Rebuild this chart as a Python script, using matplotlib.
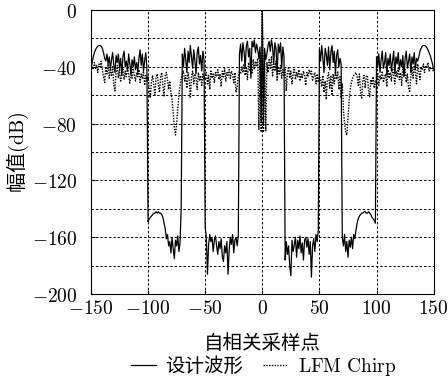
import numpy as np
import matplotlib
matplotlib.use('Agg')
import matplotlib.pyplot as plt
from matplotlib.ticker import MultipleLocator

plt.rcParams['font.family'] = ['Noto Sans CJK SC', 'DejaVu Sans']
plt.rcParams['mathtext.fontset'] = 'cm'

# autocorrelation lags
lags = np.arange(-150, 151)

# designed waveform, dB (lag -150 ... 150)
designed = [
    -43, -37, -33, -30, -28, -26.5, -25.5, -25, -25, -25.5,          # -150
    -27, -30, -34, -36, -31, -38, -33, -42, -35, -30,                # -140
    -39, -44, -32, -37, -31, -41, -34, -46, -33, -29,                # -130
    -40, -36, -43, -31, -38, -45, -35, -40, -33, -42,                # -120
    -37, -44, -34, -28, -39, -31, -43, -36, -30, -41,                # -110
    -149, -147, -146, -145, -144, -143, -143, -142, -143, -142,      # -100
    -143, -143, -144, -146, -150, -154, -161, -158, -166, -163,      # -90
    -171, -160, -168, -175, -162, -166, -159, -170, -164, -139,      # -80
    -31, -40, -27, -35, -44, -29, -37, -25, -33, -41,                # -70
    -28, -36, -45, -30, -26, -38, -32, -43, -29, -35,                # -60
    -153, -160, -186, -165, -158, -163, -160, -170, -162, -159,      # -50
    -166, -172, -163, -168, -161, -174, -177, -166, -171, -163,      # -40
    -186, -169, -160, -165, -158, -171, -162, -160, -166, -159,      # -30
    -31, -24, -36, -23, -29, -41, -25, -22, -33, -27,                # -20
    -48, -22, -26, -21, -30, -24, -28, -34, -26, -79,                # -10
    0, -80, -27, -35, -31, -25, -22, -29, -21, -26,                  # 0
    -38, -23, -27, -45, -24, -30, -23, -41, -26, -33,                # 10
    -176, -163, -172, -166, -180, -187, -162, -170, -165, -160,      # 20
    -174, -162, -168, -159, -171, -164, -176, -162, -160, -167,      # 30
    -161, -172, -163, -188, -166, -161, -170, -158, -163, -155,      # 40
    -28, -36, -25, -33, -44, -27, -31, -39, -26, -42,                # 50
    -30, -25, -37, -29, -45, -32, -28, -40, -34, -38,                # 60
    -160, -166, -158, -170, -163, -174, -162, -167, -160, -168,      # 70
    -158, -161, -155, -150, -147, -145, -144, -143, -143, -142,      # 80
    -142, -143, -143, -142, -143, -144, -146, -147, -148, -150,      # 90
    -33, -40, -31, -44, -35, -29, -41, -37, -30, -46,                # 100
    -34, -39, -31, -43, -36, -29, -45, -33, -38, -30,                # 110
    -42, -35, -40, -32, -47, -34, -29, -41, -36, -31,                # 120
    -44, -33, -38, -30, -42, -34, -36, -33, -29, -27,                # 130
    -25.5, -25, -25, -25.5, -26.5, -28, -30, -32, -35, -38,          # 140
    -42,                                                             # 150
]

# LFM chirp, dB (lag -150 ... 150)
lfm = [
    -43, -40, -42, -37, -41, -39, -44, -38, -40, -36,      # -150
    -42, -47, -51, -40, -45, -38, -48, -42, -46, -40,      # -140
    -53, -57, -44, -39, -48, -42, -50, -46, -41, -49,      # -130
    -43, -47, -40, -45, -52, -43, -48, -41, -46, -50,      # -120
    -44, -47, -42, -51, -45, -48, -43, -53, -46, -50,      # -110
    -47, -55, -62, -50, -46, -53, -60, -48, -45, -52,      # -100
    -58, -47, -44, -54, -61, -46, -44, -49, -56, -50,      # -90
    -58, -63, -72, -83, -88, -80, -69, -60, -53, -48,      # -80
    -45, -43, -50, -46, -55, -44, -49, -62, -47, -43,      # -70
    -52, -45, -48, -56, -44, -50, -46, -53, -45, -49,      # -60
    -47, -44, -52, -46, -56, -43, -48, -45, -51, -44,      # -50
    -47, -42, -49, -45, -54, -43, -47, -41, -50, -44,      # -40
    -46, -42, -48, -43, -45, -52, -44, -58, -54, -47,      # -30
    -43, -45, -40, -44, -38, -46, -41, -49, -37, -43,      # -20
    -39, -45, -35, -42, -36, -40, -34, -84, -30, -86,      # -10
    0, -86, -31, -85, -37, -44, -35, -41, -33, -47,        # 0
    -38, -43, -36, -50, -40, -45, -39, -48, -42, -46,      # 10
    -41, -57, -44, -40, -48, -43, -52, -45, -41, -49,      # 20
    -44, -47, -42, -50, -45, -48, -43, -46, -53, -44,      # 30
    -47, -42, -45, -43, -50, -46, -44, -52, -45, -51,      # 40
    -47, -49, -54, -46, -58, -50, -63, -48, -44, -55,      # 50
    -46, -60, -45, -52, -44, -49, -43, -56, -47, -62,      # 60
    -52, -70, -80, -86, -88, -76, -64, -56, -51, -48,      # 70
    -46, -45, -44, -47, -53, -45, -58, -62, -50, -46,      # 80
    -55, -47, -46, -57, -61, -49, -52, -47, -55, -50,      # 90
    -51, -44, -53, -46, -49, -43, -51, -47, -45, -54,      # 100
    -42, -48, -44, -50, -41, -46, -52, -43, -47, -41,      # 110
    -49, -44, -53, -40, -46, -42, -51, -45, -55, -58,      # 120
    -47, -41, -48, -39, -44, -52, -38, -43, -49, -40,      # 130
    -42, -38, -44, -39, -41, -37, -43, -40, -42, -41,      # 140
    -44,                                                   # 150
]

xticks = [-150, -100, -50, 0, 50, 100, 150]
yticks = [-200, -160, -120, -80, -40, 0]

fig = plt.figure(figsize=(4.48, 3.85), dpi=100)
ax = fig.add_axes([0.203, 0.236, 0.765, 0.738])

l1, = ax.plot(lags, designed, color='k', lw=0.9, zorder=3, label='设计波形')
l2, = ax.plot(lags, lfm, color='k', lw=1.0, ls=(0, (1, 1)), zorder=2,
              label=r'$\mathrm{LFM\ Chirp}$')

ax.set_xlim(-150, 150)
ax.set_ylim(-200, 0)
ax.set_xticks(xticks)
ax.set_xticklabels(['$%d$' % v for v in xticks])
ax.set_yticks(yticks)
ax.set_yticklabels(['$%d$' % v for v in yticks])
ax.yaxis.set_minor_locator(MultipleLocator(20))
ax.tick_params(which='major', direction='in', length=3, labelsize=14)
ax.tick_params(axis='x', pad=3)
ax.tick_params(axis='y', pad=10)
ax.tick_params(which='minor', length=0)

ax.grid(True, which='both', ls=(0, (2.5, 2)), color='k', lw=0.7)
for t in ax.yaxis.get_minor_ticks():
    if abs(t.get_loc() + 60) < 1e-6:
        t.gridline.set_color('0.6')
        t.gridline.set_linewidth(0.6)

ax.set_xlabel('自相关采样点', fontsize=14, labelpad=10)
ax.set_ylabel(r'幅值$\mathrm{(dB)}$', fontsize=14.5, va='center')
ax.yaxis.set_label_coords(-0.213, 0.5)

fig.legend(handles=[l1, l2], loc='center', bbox_to_anchor=(0.588, 0.046),
           ncol=2, frameon=False, fontsize=14, handlelength=1.3,
           handletextpad=0.5, columnspacing=1.0)

fig.savefig('out.png', dpi=100)
